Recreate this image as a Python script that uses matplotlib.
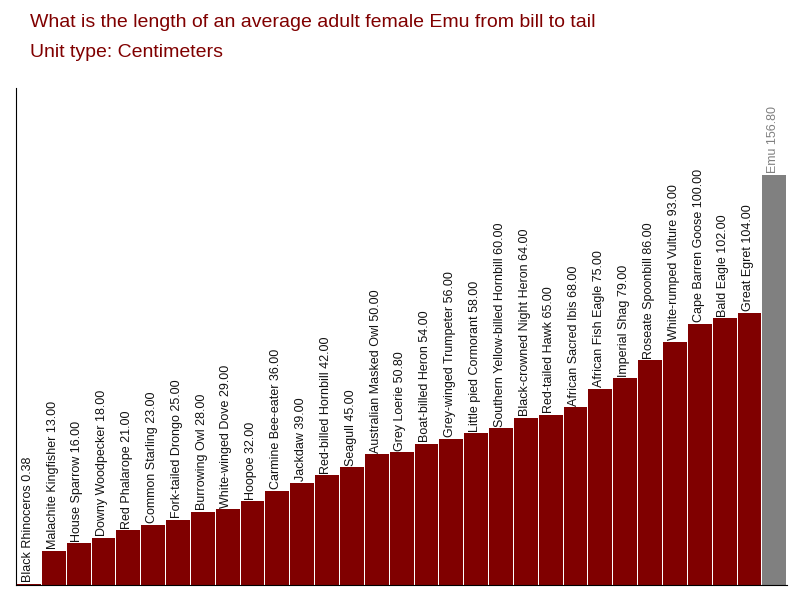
import matplotlib
matplotlib.use("Agg")
import matplotlib.pyplot as plt

plt.rcParams['font.family'] = ['Liberation Sans', 'DejaVu Sans']

birds = ["Black Rhinoceros", "Malachite Kingfisher", "House Sparrow", "Downy Woodpecker",
         "Red Phalarope", "Common Starling", "Fork-tailed Drongo", "Burrowing Owl",
         "White-winged Dove", "Hoopoe", "Carmine Bee-eater", "Jackdaw", "Red-billed Hornbill",
         "Seagull", "Australian Masked Owl", "Grey Loerie", "Boat-billed Heron",
         "Grey-winged Trumpeter", "Little pied Cormorant", "Southern Yellow-billed Hornbill",
         "Black-crowned Night Heron", "Red-tailed Hawk", "African Sacred Ibis",
         "African Fish Eagle", "Imperial Shag", "Roseate Spoonbill", "White-rumped Vulture",
         "Cape Barren Goose", "Bald Eagle", "Great Egret", "Emu"]
lengths = [0.38, 13, 16, 18, 21, 23, 25, 28, 29, 32, 36, 39, 42, 45, 50, 50.8, 54, 56, 58,
           60, 64, 65, 68, 75, 79, 86, 93, 100, 102, 104, 156.8]

fig = plt.figure(figsize=(8, 6), dpi=100)
ax = fig.add_axes([0.02, 0.025, 0.964, 0.828])
colors = ["#800000"] * (len(birds) - 1) + ["#808080"]
x = range(len(birds))
ax.bar(x, lengths, width=0.96, color=colors)
for i, (b, v) in enumerate(zip(birds, lengths)):
    ax.text(i - 0.05, v + 0.6, f"{b} {v:.2f}", rotation=90, ha="center", va="bottom",
            fontsize=9, color="#808080" if b == "Emu" else "#111111")
ax.set_xlim(-0.52, len(birds) - 0.48)
ax.set_ylim(0, 190)
ax.set_xticks([])
ax.set_yticks([])
for s in ["top", "right"]:
    ax.spines[s].set_visible(False)
fig.text(0.037, 0.963, "What is the length of an average adult female Emu from bill to tail",
         color="#800000", fontsize=14, va="center")
fig.text(0.037, 0.912, "Unit type: Centimeters", color="#800000", fontsize=14, va="center")
fig.savefig("out.png")
